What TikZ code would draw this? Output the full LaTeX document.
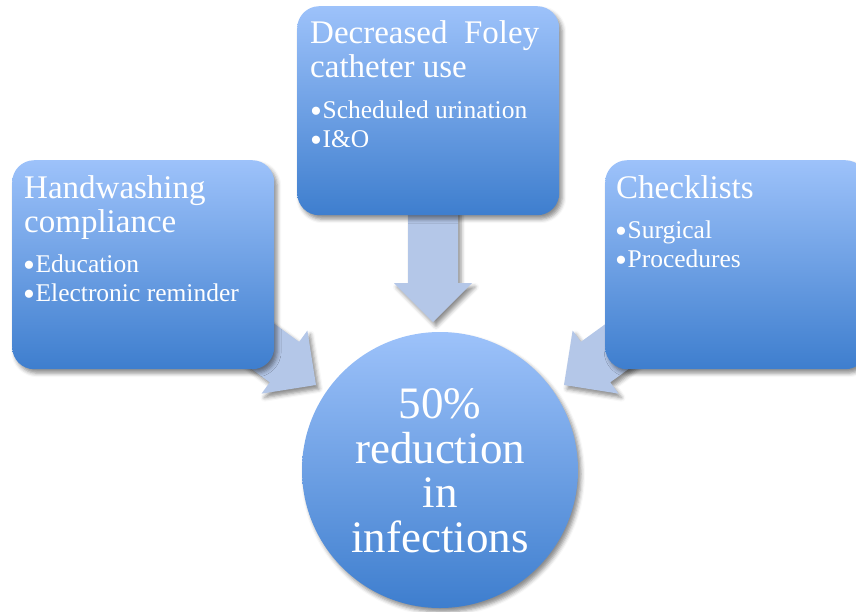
\documentclass[tikz,border=0pt]{standalone}
\usepackage{fontspec}
\setmainfont{Liberation Serif}
\usetikzlibrary{shadows.blur}
\definecolor{boxtop}{RGB}{157,194,250}
\definecolor{boxbot}{RGB}{62,126,206}
\definecolor{arrowfill}{RGB}{180,199,232}
% a slightly heavier list bullet, sitting at mid x-height
\newcommand{\listdot}{\raisebox{-4.5pt}[0pt][0pt]{\fontsize{34}{29}\selectfont•}\hspace{0.5pt}}
\begin{document}
\begin{tikzpicture}[x=1pt,y=-1pt,
  softshadow/.style={blur shadow={shadow xshift=3pt, shadow yshift=-4pt, shadow blur radius=4pt, shadow opacity=45}},
  panel/.style={rectangle, rounded corners=22pt, top color=boxtop, bottom color=boxbot,
    draw=none, softshadow, inner sep=0pt, minimum width=262pt, minimum height=209pt, anchor=north west},
  goalshape/.style={circle, top color=boxtop, bottom color=boxbot, draw=none, softshadow,
    inner sep=0pt, minimum size=276pt},
  headline/.style={text=white, anchor=base west, inner sep=0pt, font=\fontsize{33}{34}\selectfont},
  item/.style={text=white, anchor=base west, inner sep=0pt, font=\fontsize{25.5}{29}\selectfont},
  goaltext/.style={text=white, anchor=base, inner sep=0pt, font=\fontsize{45}{45}\selectfont},
  fatarrow/.pic={\fill[arrowfill, softshadow] (0,0) -- (-39,-39) -- (-39,-25) -- (-130,-25)
    -- (-130,25) -- (-39,25) -- (-39,39) -- cycle;}
]
\useasboundingbox (0,0) rectangle (856,611);
\clip (0,0) rectangle (856,611);

% arrow tips pointing at the goal circle
\coordinate (tipT) at (433,322);
\coordinate (tipL) at (316,385);
\coordinate (tipR) at (564,385);

% broad arrows (drawn first, their tails hide under the panels)
\pic[rotate=-90] at (tipT) {fatarrow};
\pic[rotate=-36] at (tipL) {fatarrow};
\pic[rotate=-144] at (tipR) {fatarrow};

% three measure panels
\node[panel] (foley) at (297,6) {};
\node[panel] (hands) at (12,160) {};
\node[panel] (check) at (605,160) {};

% goal circle
\node[goalshape] (goal) at (440,470) {};

% Foley panel text
\node[headline] (foleyA) at (310,43) {Decreased\ \ Foley};
\node[headline] (foleyB) at (310,77) {catheter use};
\node[item] (foleyC) at (310,118) {\listdot Scheduled urination};
\node[item] (foleyD) at (310,147) {\listdot I\&O};

% handwashing panel text
\node[headline] (handsA) at (24,198) {Handwashing};
\node[headline] (handsB) at (24,232) {compliance};
\node[item] (handsC) at (23,272) {\listdot Education};
\node[item] (handsD) at (23,301) {\listdot Electronic reminder};

% checklist panel text
\node[headline] (checkA) at (616,198) {Checklists};
\node[item] (checkB) at (615,238) {\listdot Surgical};
\node[item] (checkC) at (615,267) {\listdot Procedures};

% goal text
\node[goaltext] (goalA) at (440,418) {50\%};
\node[goaltext] (goalB) at (440,463) {reduction};
\node[goaltext] (goalC) at (440,507) {in};
\node[goaltext] (goalD) at (440,552) {infections};
\end{tikzpicture}
\end{document}
